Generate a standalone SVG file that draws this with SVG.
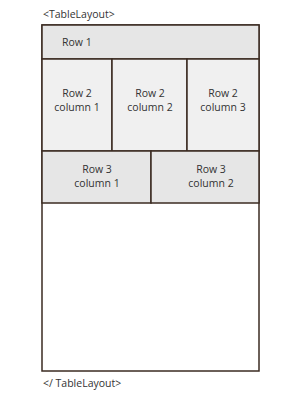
<svg xmlns="http://www.w3.org/2000/svg" width="287" height="400" viewBox="0 0 287 400">
<style>
.cell{stroke:#3b2b22;stroke-width:1.5}
.r1{fill:#e6e6e6}
.r2{fill:#f0f0f0}
.r3{fill:#e6e6e6}
text{font-family:"Open Sans","Liberation Sans",sans-serif;font-size:10.5px;fill:#333}
.c{text-anchor:middle}
</style>
<rect width="287" height="400" fill="#fff"/>
<text x="43" y="18">&lt;TableLayout&gt;</text>
<g id="table">
<rect class="cell" x="42" y="25" width="217" height="346" fill="#fff"/>
</g>
<g id="row1"><rect class="cell r1" x="42" y="25" width="217" height="34"/><text x="62" y="46">Row 1</text></g>
<g id="r2c1"><rect class="cell r2" x="42" y="59" width="70" height="92"/><text class="c" x="77" y="97">Row 2</text><text class="c" x="77" y="111">column 1</text></g>
<g id="r2c2"><rect class="cell r2" x="112" y="59" width="75" height="92"/><text class="c" x="150" y="97">Row 2</text><text class="c" x="150" y="111">column 2</text></g>
<g id="r2c3"><rect class="cell r2" x="187" y="59" width="72" height="92"/><text class="c" x="223" y="97">Row 2</text><text class="c" x="223" y="111">column 3</text></g>
<g id="r3c1"><rect class="cell r3" x="42" y="151" width="109" height="52"/><text class="c" x="97" y="173">Row 3</text><text class="c" x="97" y="187">column 1</text></g>
<g id="r3c2"><rect class="cell r3" x="151" y="151" width="108" height="52"/><text class="c" x="211" y="173">Row 3</text><text class="c" x="211" y="187">column 2</text></g>
<text x="43" y="387">&lt;/ TableLayout&gt;</text>
</svg>
